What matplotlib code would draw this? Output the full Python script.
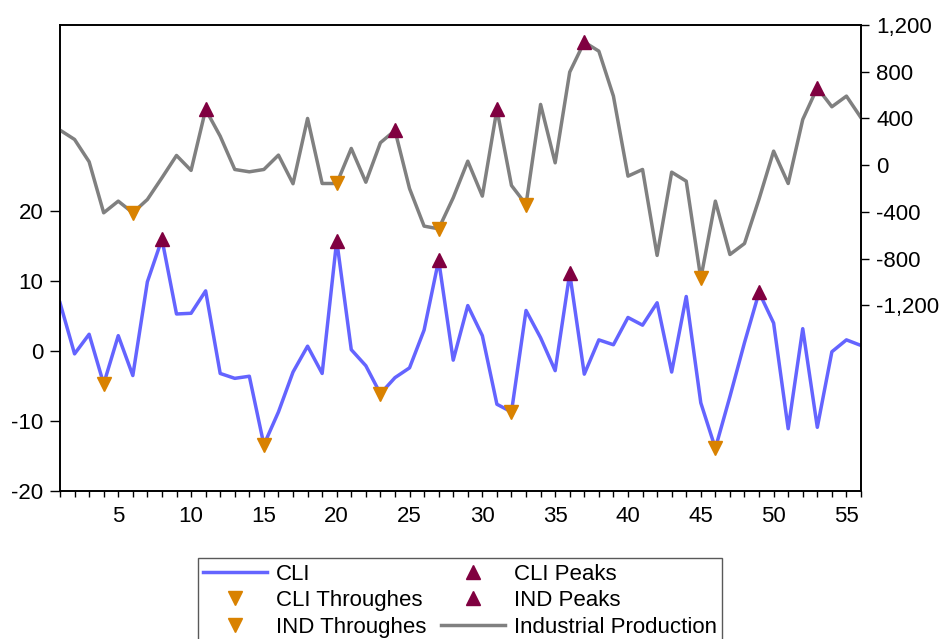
import numpy as np
import matplotlib
matplotlib.use('Agg')
import matplotlib.pyplot as plt
from matplotlib.ticker import FixedLocator, FuncFormatter, MultipleLocator

plt.rcParams['font.family'] = ['Liberation Sans', 'DejaVu Sans']
plt.rcParams['axes.unicode_minus'] = False

# data
periods = np.arange(1, 57)

cli = [6.9, -0.4, 2.4, -4.7, 2.2, -3.5, 9.9, 16.0, 5.3, 5.4,
       8.6, -3.2, -3.9, -3.6, -13.4, -8.7, -3.0, 0.7, -3.2, 15.8,
       0.2, -2.1, -6.1, -3.8, -2.4, 3.0, 13.0, -1.3, 6.5, 2.2,
       -7.6, -8.7, 5.8, 1.9, -2.8, 11.1, -3.3, 1.6, 0.9, 4.8,
       3.7, 6.9, -3.0, 7.8, -7.4, -13.9, -6.5, 1.2, 8.4, 4.0,
       -11.1, 3.2, -10.9, -0.1, 1.6, 0.8]

ind = [300, 220, 29, -408, -308, -408, -294, -108, 83, -45,
       477, 248, -37, -57, -37, 86, -159, 400, -157, -157,
       143, -146, 192, 297, -200, -522, -545, -279, 34, -265,
       477, -174, -337, 520, 20, 797, 1054, 976, 591, -94,
       -37, -773, -60, -137, -970, -308, -765, -671, -290, 120,
       -157, 391, 663, 500, 591, 406]

cli_troughs = [4, 15, 23, 32, 46]
cli_peaks = [8, 20, 27, 36, 49]
ind_troughs = [6, 20, 27, 33, 45]
ind_peaks = [11, 24, 31, 37, 53]

blue = '#6464FF'
gray = '#808080'
maroon = '#800040'
orange = '#D98200'

fig = plt.figure(figsize=(9.41, 6.39), dpi=100)
ax = fig.add_axes([60 / 941, 1 - 491 / 639, 801 / 941, 466 / 639])
ax2 = ax.twinx()

cli_s = dict(zip(periods, cli))
ind_s = dict(zip(periods, ind))

l_cli, = ax.plot(periods, cli, color=blue, lw=2.5, label='CLI')
m_ct, = ax.plot(cli_troughs, [cli_s[p] for p in cli_troughs], 'v', color=orange,
                ms=9.5, ls='none', label='CLI Throughes')
m_cp, = ax.plot(cli_peaks, [cli_s[p] for p in cli_peaks], '^', color=maroon,
                ms=9.5, ls='none', label='CLI Peaks')

l_ind, = ax2.plot(periods, ind, color=gray, lw=2.5, label='Industrial Production')
m_it, = ax2.plot(ind_troughs, [ind_s[p] for p in ind_troughs], 'v', color=orange,
                 ms=9.5, ls='none', label='IND Throughes')
m_ip, = ax2.plot(ind_peaks, [ind_s[p] for p in ind_peaks], '^', color=maroon,
                 ms=9.5, ls='none', label='IND Peaks')

ax.set_xlim(1, 56)
ax.set_ylim(-20, 46.6)
ax2.set_ylim(-2790, 1200)

ax.yaxis.set_major_locator(FixedLocator([-20, -10, 0, 10, 20]))
ax2.yaxis.set_major_locator(FixedLocator([-1200, -800, -400, 0, 400, 800, 1200]))
ax2.yaxis.set_major_formatter(FuncFormatter(lambda v, _: f'{v:,.0f}'))
ax.xaxis.set_major_locator(FixedLocator([5, 10, 15, 20, 25, 30, 35, 40, 45, 50, 55]))
ax.xaxis.set_minor_locator(MultipleLocator(1))

ax.tick_params(axis='y', direction='out', length=7, width=1, pad=5, labelsize=16)
ax.tick_params(axis='x', which='both', direction='out', length=4.5, width=1, pad=6, labelsize=16)
ax2.tick_params(axis='y', direction='out', length=6, width=1, pad=5, labelsize=16)

for a in (ax, ax2):
    for s in a.spines.values():
        s.set_linewidth(1.2)

handles = [l_cli, m_ct, m_it, m_cp, m_ip, l_ind]
leg = fig.legend(handles, [h.get_label() for h in handles], loc='upper center',
                 bbox_to_anchor=(460 / 941, 1 - 558 / 639), ncol=2, fontsize=16,
                 frameon=True, fancybox=False, edgecolor='#303030', borderpad=0.25,
                 handlelength=2.85, handletextpad=0.4, columnspacing=0.7,
                 labelspacing=0.25, borderaxespad=0)
leg.get_frame().set_linewidth(1.0)

fig.savefig('out.png', dpi=100)
